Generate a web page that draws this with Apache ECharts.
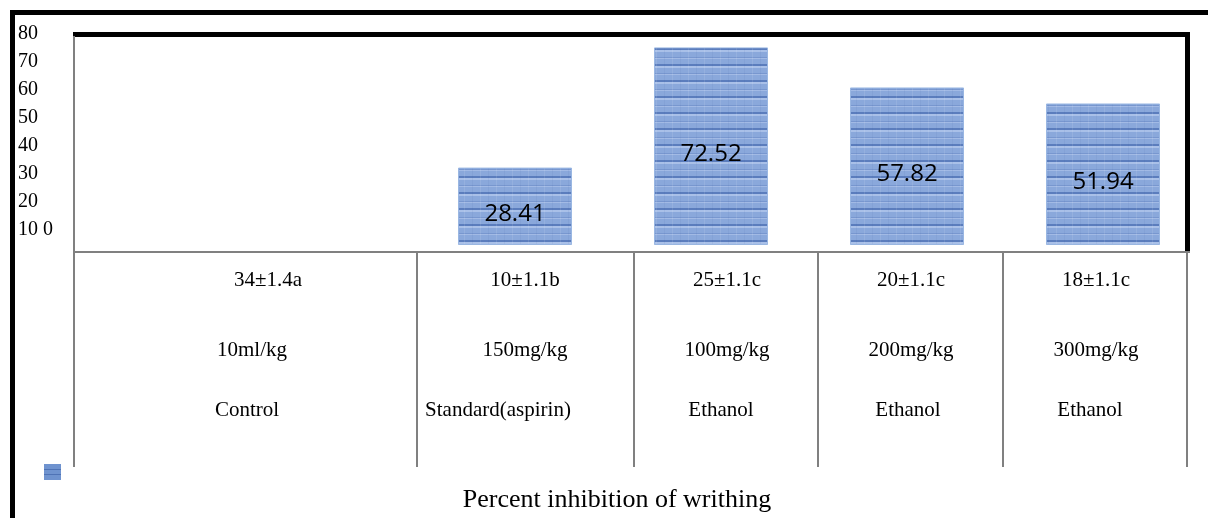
<!DOCTYPE html>
<html>
<head>
<meta charset="utf-8">
<script src="https://cdn.jsdelivr.net/npm/echarts@6/dist/echarts.min.js"></script>
<style>
  html, body { margin: 0; padding: 0; background: #ffffff; }
  #chart { width: 1208px; height: 518px; }
</style>
</head>
<body>
<div id="chart"></div>
<script>
// ---- data ----
const categories = ['Control', 'Standard(aspirin)', 'Ethanol 100mg/kg', 'Ethanol 200mg/kg', 'Ethanol 300mg/kg'];
const inhibition = [null, 28.41, 72.52, 57.82, 51.94];
const tickLabels = ['10 0', '20', '30', '40', '50', '60', '70', '80'];
const writhingCounts = ['34±1.4a', '10±1.1b', '25±1.1c', '20±1.1c', '18±1.1c'];
const doses = ['10ml/kg', '150mg/kg', '100mg/kg', '200mg/kg', '300mg/kg'];
const groups = ['Control', 'Standard(aspirin)', 'Ethanol', 'Ethanol', 'Ethanol'];
const titleText = 'Percent inhibition of writhing';

// ---- layout (not data) ----
const row1X = [268, 525, 727, 911, 1096];
const row2X = [252, 525, 727, 911, 1096];
const row3X = [247, 498, 721, 908, 1090];
const rowY = [280, 350, 410];
const colLines = [416, 633, 817, 1002, 1186];

// striped bar pattern
function makePattern() {
  const c = document.createElement('canvas');
  c.width = 16; c.height = 16;
  const g = c.getContext('2d');
  g.fillStyle = '#8aa8db'; g.fillRect(0, 0, 16, 16);
  g.fillStyle = '#5b7dbd'; g.fillRect(0, 0, 16, 2);
  g.fillStyle = '#a9c0e8'; g.fillRect(0, 2, 16, 2);
  g.fillStyle = '#7897cf'; g.fillRect(0, 9, 16, 1);
  g.fillStyle = '#a2bae5'; g.fillRect(0, 10, 16, 1);
  g.fillStyle = 'rgba(255,255,255,0.10)'; g.fillRect(0, 0, 1, 16);
  g.fillStyle = 'rgba(60,90,160,0.07)'; g.fillRect(8, 0, 1, 16);
  return c;
}
const pat = makePattern();
const patternFill = { image: pat, repeat: 'repeat' };

const chart = echarts.init(document.getElementById('chart'), null, { renderer: 'canvas' });

const graphics = [];
function rect(x, y, w, h, fill) {
  graphics.push({ type: 'rect', silent: true, shape: { x, y, width: w, height: h }, style: { fill } });
}
function text(t, x, y, size, align) {
  graphics.push({
    type: 'text', silent: true, x, y,
    style: { text: t, fill: '#000', font: size + 'px "Liberation Serif", "Times New Roman", serif',
      textAlign: align || 'center', textVerticalAlign: 'middle' }
  });
}
// outer frame
rect(10, 10, 1198, 5, '#000');
rect(10, 10, 5, 508, '#000');
// inner frame
rect(73, 32, 1117, 5, '#000');
rect(1185, 32, 5, 219, '#000');
rect(73, 36, 2, 431, '#808080');
rect(73, 251, 1117, 2, '#808080');
colLines.forEach(x => rect(x, 251, 2, 216, '#808080'));
// table text
writhingCounts.forEach((t, i) => text(t, row1X[i], rowY[0], 21));
doses.forEach((t, i) => text(t, row2X[i], rowY[1], 21));
groups.forEach((t, i) => text(t, row3X[i], rowY[2], 21));
// legend
graphics.push({ type: 'rect', silent: true, shape: { x: 44, y: 464, width: 17, height: 16 }, style: { fill: '#6f93cf' } });
graphics.push({ type: 'rect', silent: true, shape: { x: 44, y: 469, width: 17, height: 1 }, style: { fill: '#4f73b5' } });
graphics.push({ type: 'rect', silent: true, shape: { x: 44, y: 474, width: 17, height: 1 }, style: { fill: '#4f73b5' } });
text(titleText, 617, 500, 26);

const option = {
  backgroundColor: '#ffffff',
  animation: false,
  grid: [
    { left: 221, width: 980, top: 27, height: 218, containLabel: false },
    { left: 18, width: 10, top: 20, height: 224, containLabel: false }
  ],
  xAxis: [
    { type: 'category', gridIndex: 0, data: categories, show: false },
    { type: 'value', gridIndex: 1, show: false }
  ],
  yAxis: [
    { type: 'value', gridIndex: 0, min: 0, max: 80, show: false },
    {
      type: 'category', gridIndex: 1, data: tickLabels, position: 'left',
      axisLine: { show: false }, axisTick: { show: false }, splitLine: { show: false },
      axisLabel: {
        inside: true, margin: 0, align: 'left', color: '#000', fontSize: 20,
        fontFamily: '"Liberation Serif", "Times New Roman", serif'
      }
    }
  ],
  series: [{
    type: 'bar',
    xAxisIndex: 0, yAxisIndex: 0,
    data: inhibition,
    barWidth: 114,
    itemStyle: { color: patternFill, borderColor: 'rgba(150,180,225,0.9)', borderWidth: 1 },
    label: {
      show: true, position: 'inside', offset: [0, 8],
      color: '#000', fontSize: 24, fontFamily: '"Open Sans", "Noto Sans", sans-serif',
      formatter: p => p.value == null ? '' : p.value.toFixed(2)
    }
  }],
  graphic: graphics
};
chart.setOption(option);
</script>
</body>
</html>
